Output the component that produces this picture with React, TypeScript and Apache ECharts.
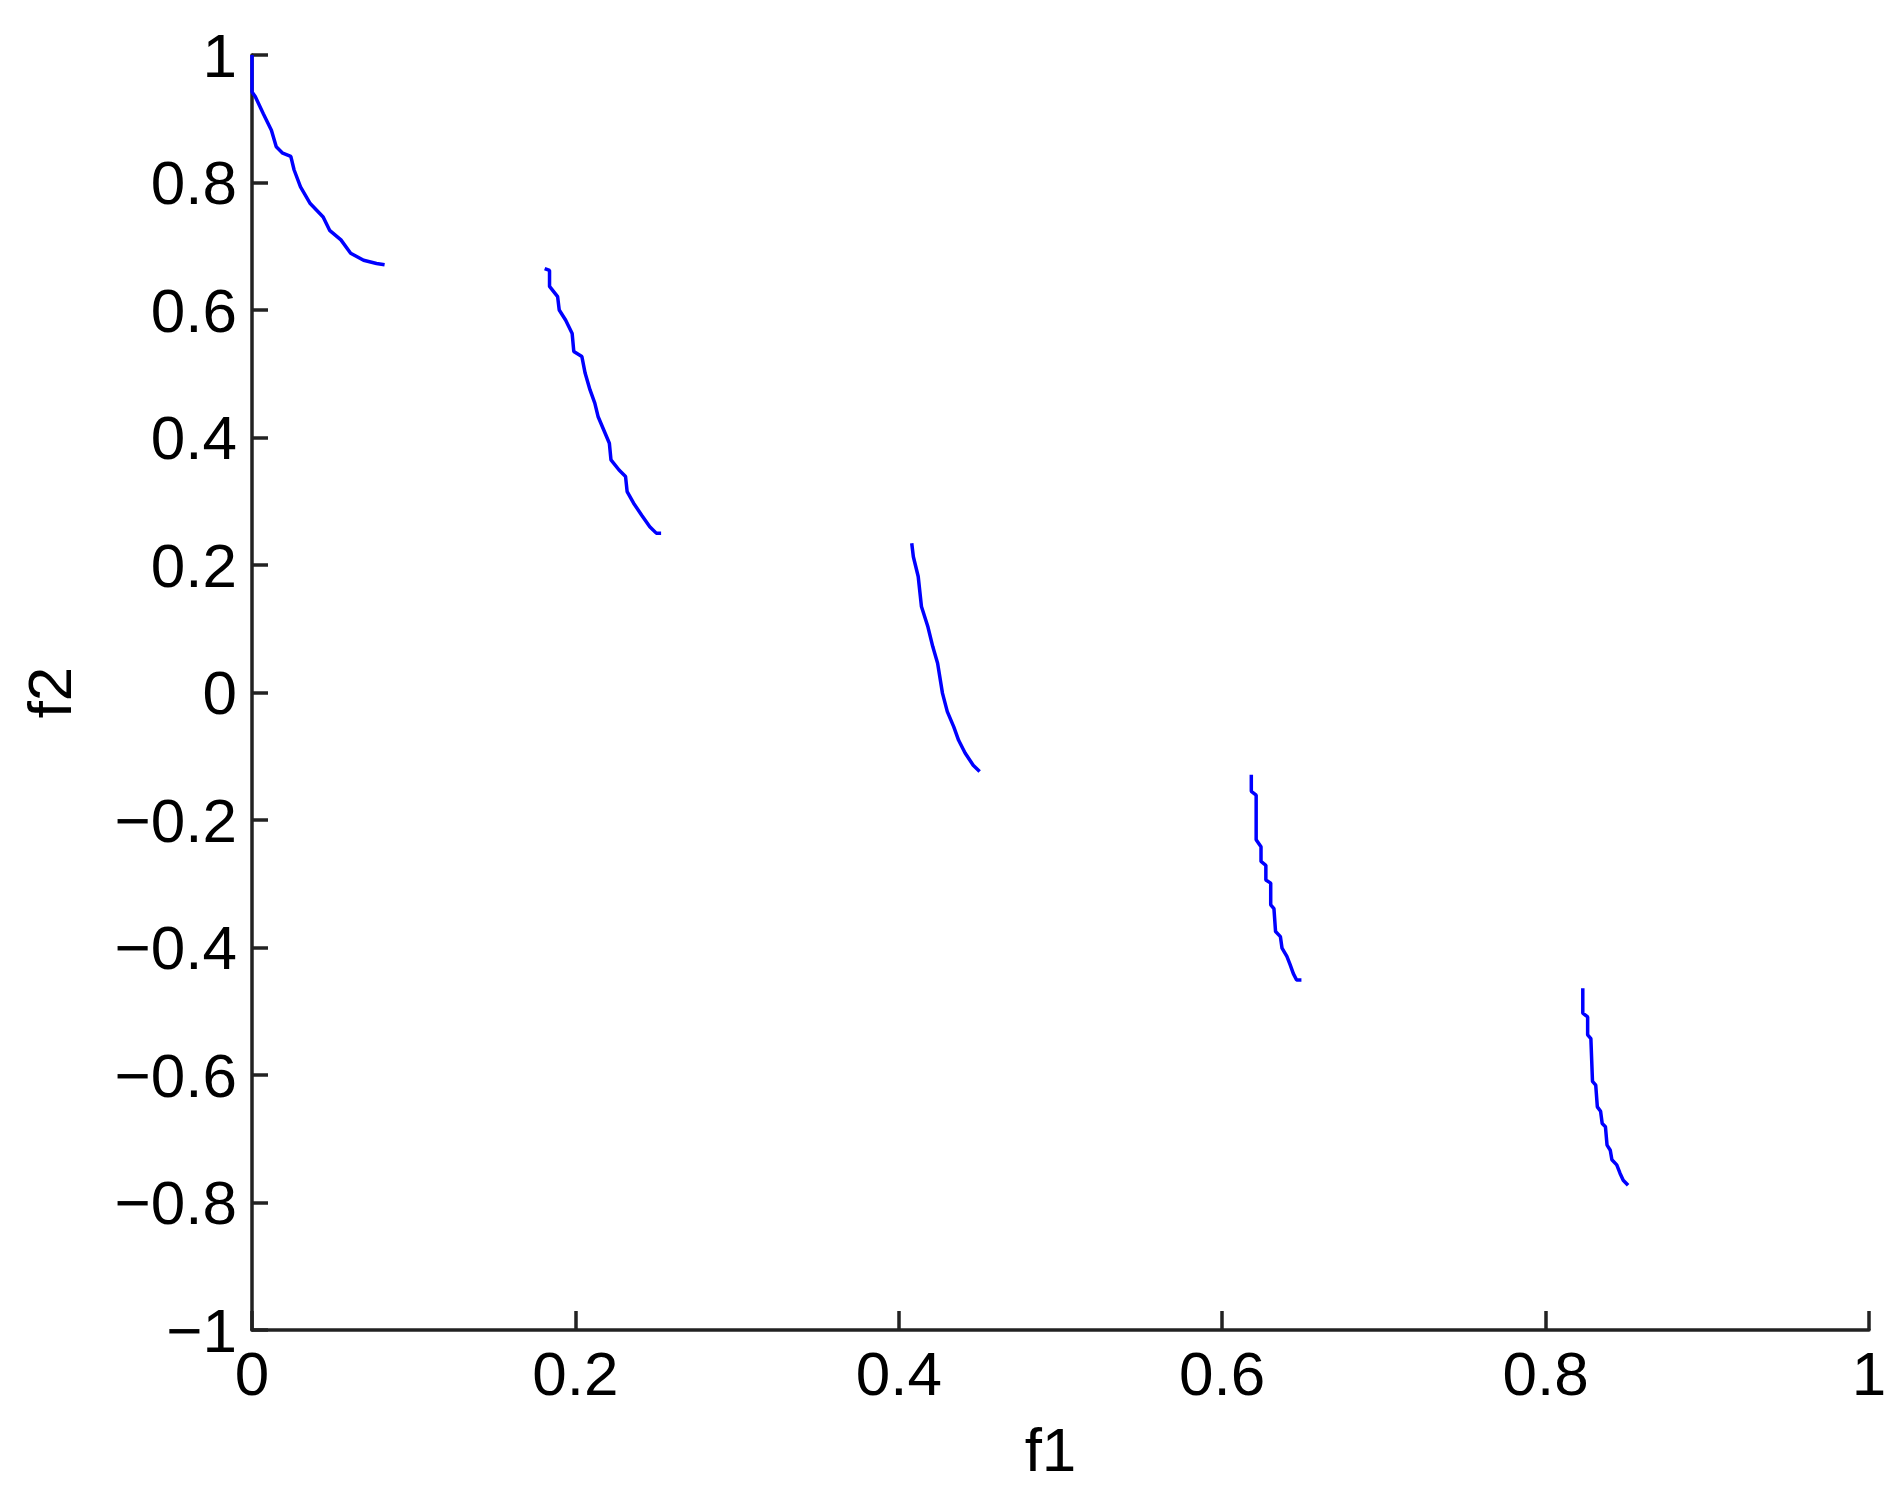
import React, { useEffect, useRef } from "react";
import * as echarts from "echarts";

const xTicks = [0, 0.2, 0.4, 0.6, 0.8, 1];
const yTicks = [-1, -0.8, -0.6, -0.4, -0.2, 0, 0.2, 0.4, 0.6, 0.8, 1];

const segment1: [number, number][] = [
  [0, 1.0], [0, 0.942], [0.002, 0.935], [0.007, 0.908], [0.012, 0.882], [0.015, 0.856],
  [0.019, 0.846], [0.024, 0.841], [0.026, 0.82], [0.03, 0.793], [0.036, 0.767],
  [0.044, 0.746], [0.048, 0.725], [0.055, 0.71], [0.061, 0.689], [0.069, 0.678],
  [0.077, 0.673], [0.082, 0.671],
];
const segment2: [number, number][] = [
  [0.181, 0.665], [0.184, 0.662], [0.184, 0.637], [0.189, 0.621], [0.19, 0.6],
  [0.194, 0.584], [0.198, 0.563], [0.199, 0.535], [0.204, 0.527], [0.206, 0.501],
  [0.209, 0.475], [0.212, 0.454], [0.214, 0.433], [0.218, 0.409], [0.221, 0.391],
  [0.222, 0.365], [0.227, 0.349], [0.231, 0.339], [0.232, 0.315], [0.236, 0.297],
  [0.241, 0.278], [0.246, 0.26], [0.25, 0.25], [0.253, 0.25],
];
const segment3: [number, number][] = [
  [0.408, 0.234], [0.409, 0.213], [0.412, 0.182], [0.414, 0.135], [0.418, 0.103],
  [0.421, 0.072], [0.424, 0.046], [0.427, -0.001], [0.43, -0.03], [0.434, -0.054],
  [0.437, -0.075], [0.441, -0.095], [0.446, -0.114], [0.45, -0.124],
];
const segment4: [number, number][] = [
  [0.618, -0.129], [0.618, -0.155], [0.621, -0.161], [0.621, -0.231], [0.624, -0.242],
  [0.624, -0.265], [0.627, -0.271], [0.627, -0.294], [0.63, -0.299], [0.63, -0.333],
  [0.632, -0.339], [0.633, -0.375], [0.636, -0.383], [0.637, -0.401], [0.64, -0.414],
  [0.642, -0.427], [0.644, -0.441], [0.646, -0.451], [0.649, -0.451],
];
const segment5: [number, number][] = [
  [0.823, -0.464], [0.823, -0.503], [0.826, -0.509], [0.826, -0.537], [0.828, -0.543],
  [0.829, -0.61], [0.831, -0.616], [0.832, -0.65], [0.834, -0.657], [0.835, -0.676],
  [0.837, -0.681], [0.838, -0.71], [0.84, -0.718], [0.841, -0.733], [0.844, -0.741],
  [0.846, -0.754], [0.848, -0.765], [0.851, -0.773],
];

const segments = [segment1, segment2, segment3, segment4, segment5];

const FONT = "'Liberation Sans', Arial, sans-serif";
const AXIS_COLOR = "#222222";
const TEXT_COLOR = "#000000";

function fmt(v: number): string {
  const s = String(Math.round(v * 10) / 10);
  return s.replace("-", "\u2212");
}

export default function App() {
  const ref = useRef<HTMLDivElement>(null);
  useEffect(() => {
    if (!ref.current) return;
    const chart = echarts.init(ref.current, null, { renderer: "svg" });
    chart.setOption({
      animation: false,
      backgroundColor: "#ffffff",
      grid: { left: 252, right: 28, top: 55, bottom: 165, containLabel: false },
      xAxis: {
        type: "value",
        min: xTicks[0],
        max: xTicks[xTicks.length - 1],
        interval: 0.2,
        name: "f1",
        nameLocation: "middle",
        nameGap: 88,
        nameTextStyle: { fontFamily: FONT, fontSize: 62, color: TEXT_COLOR, padding: [0, 20, 0, 0] },
        axisLine: { show: true, onZero: false, lineStyle: { color: AXIS_COLOR, width: 3.5 } },
        axisTick: { show: true, inside: true, length: 19, lineStyle: { color: AXIS_COLOR, width: 3.5 } },
        axisLabel: {
          fontFamily: FONT,
          fontSize: 62,
          color: TEXT_COLOR,
          margin: 12,
          formatter: (v: number) => fmt(v),
        },
        splitLine: { show: false },
      },
      yAxis: {
        type: "value",
        min: yTicks[0],
        max: yTicks[yTicks.length - 1],
        interval: 0.2,
        name: "f2",
        nameLocation: "middle",
        nameGap: 203,
        nameRotate: 90,
        nameTextStyle: { fontFamily: FONT, fontSize: 62, color: TEXT_COLOR, verticalAlign: "middle" },
        axisLine: { show: true, onZero: false, lineStyle: { color: AXIS_COLOR, width: 3.5 } },
        axisTick: { show: true, inside: true, length: 16, lineStyle: { color: AXIS_COLOR, width: 3.5 } },
        axisLabel: {
          fontFamily: FONT,
          fontSize: 62,
          color: TEXT_COLOR,
          margin: 15,
          formatter: (v: number) => fmt(v),
        },
        splitLine: { show: false },
      },
      series: segments.map((seg, i) => ({
        type: "line",
        name: "front" + (i + 1),
        data: seg,
        showSymbol: false,
        symbol: "none",
        lineStyle: { color: "#0000ff", width: 3.5 },
        z: 3,
      })),
    });
    return () => chart.dispose();
  }, []);
  return (
    <div
      ref={ref}
      style={{ position: "fixed", left: 0, top: 0, width: 1897, height: 1495, background: "#fff" }}
    />
  );
}
